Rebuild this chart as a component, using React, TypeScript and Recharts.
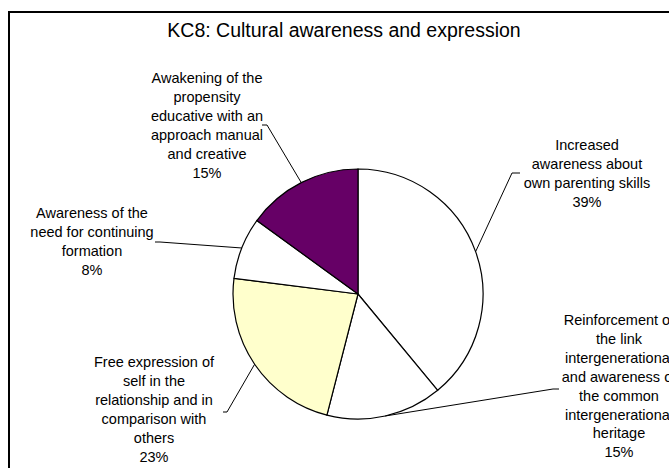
import { PieChart, Pie, Cell } from 'recharts'

const categories = [
  'Increased awareness about own parenting skills',
  'Reinforcement of the link intergenerational and awareness of the common intergenerational heritage',
  'Free expression of self in the relationship and in comparison with others',
  'Awareness of the need for continuing formation',
  'Awakening of the propensity educative with an approach manual and creative',
]
const shares = [39, 15, 23, 8, 15]
const labelLines = [
  ['Increased', 'awareness about', 'own parenting skills'],
  ['Reinforcement of', 'the link', 'intergenerational', 'and awareness of', 'the common', 'intergenerational', 'heritage'],
  ['Free expression of', 'self in the', 'relationship and in', 'comparison with', 'others'],
  ['Awareness of the', 'need for continuing', 'formation'],
  ['Awakening of the', 'propensity', 'educative with an', 'approach manual', 'and creative'],
]

const data = categories.map((name, i) => ({ name, value: shares[i] }))
const fills = ['#ffffff', '#ffffff', '#ffffcc', '#ffffff', '#660066']

// where each callout text sits and how its leader bends
const callouts = [
  { tx: 587, ty: 150, ex: 512, ey: 173, hx: 520 },
  { tx: 619, ty: 325, ex: 553, ey: 389, hx: 559 },
  { tx: 154, ty: 367, ex: 227, ey: 412, hx: 223 },
  { tx: 92, ty: 218, ex: 160, ey: 242, hx: 155 },
  { tx: 207, ty: 83, ex: 267, ey: 125, hx: 262 },
]

const RAD = Math.PI / 180
const LINE_H = 18.9

function renderLabel(props: any) {
  const { cx, cy, midAngle, outerRadius, index } = props
  const c = callouts[index]
  const sx = cx + outerRadius * Math.cos(-midAngle * RAD)
  const sy = cy + outerRadius * Math.sin(-midAngle * RAD)
  const lines = [...labelLines[index], `${shares[index]}%`]
  return (
    <g key={`lbl-${index}`}>
      <polyline
        points={`${sx},${sy} ${c.ex},${c.ey} ${c.hx},${c.ey}`}
        fill="none"
        stroke="#000"
        strokeWidth={1}
      />
      <text
        x={c.tx}
        y={c.ty}
        textAnchor="middle"
        fontFamily="'Liberation Sans', Arial, sans-serif"
        fontSize={14.5}
        fill="#000"
      >
        {lines.map((l, k) => (
          <tspan key={k} x={c.tx} y={c.ty + k * LINE_H}>
            {l}
          </tspan>
        ))}
      </text>
    </g>
  )
}

export default function App() {
  return (
    <div
      style={{
        position: 'absolute',
        left: 0,
        top: 0,
        width: 669,
        height: 468,
        overflow: 'hidden',
        background: '#fff',
      }}
    >
      <div
        style={{
          position: 'absolute',
          left: 8,
          top: 11,
          width: 700,
          height: 500,
          border: '2px solid #000',
        }}
      />
      <div
        style={{
          position: 'absolute',
          left: 0,
          top: 19,
          width: 688,
          textAlign: 'center',
          fontFamily: "'Liberation Sans', Arial, sans-serif",
          fontSize: 19.5,
          lineHeight: '22px',
          color: '#000',
        }}
      >
        KC8: Cultural awareness and expression
      </div>
      <div style={{ position: 'absolute', left: 0, top: 0 }}>
        <PieChart width={669} height={468} margin={{ top: 0, right: 0, bottom: 0, left: 0 }}>
          <Pie
            data={data}
            dataKey="value"
            nameKey="name"
            cx={358}
            cy={294}
            outerRadius={125}
            startAngle={90}
            endAngle={-270}
            stroke="#000"
            strokeWidth={1.2}
            label={renderLabel}
            labelLine={false}
            isAnimationActive={false}
          >
            {data.map((d, i) => (
              <Cell key={d.name} fill={fills[i]} />
            ))}
          </Pie>
        </PieChart>
      </div>
    </div>
  )
}
